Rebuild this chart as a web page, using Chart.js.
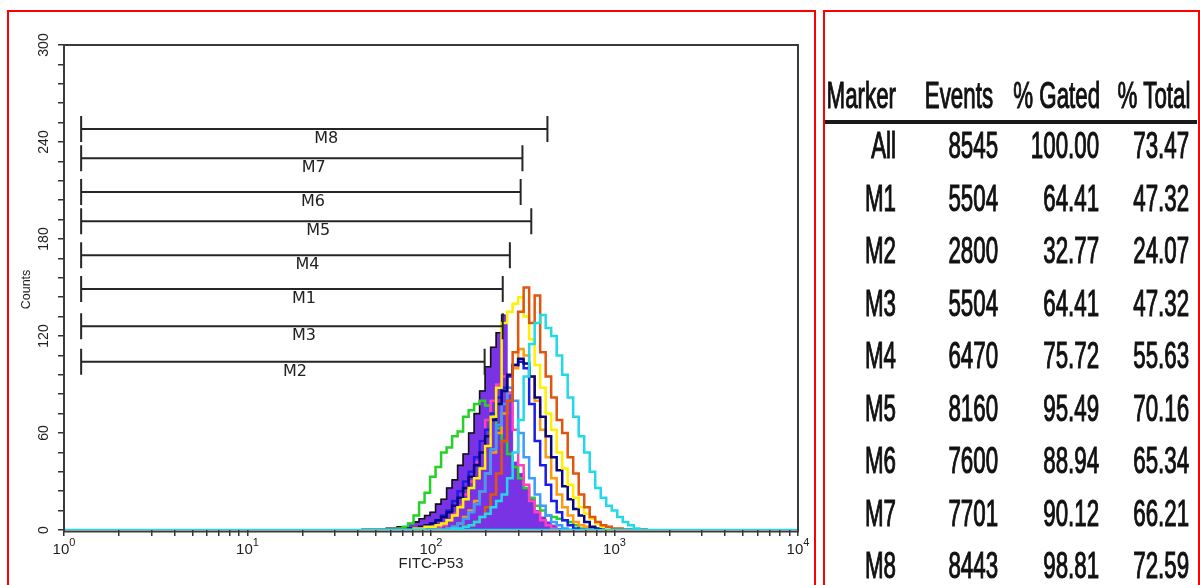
<!DOCTYPE html>
<html><head><meta charset="utf-8">
<script src="https://cdn.jsdelivr.net/npm/chart.js@4.4.1/dist/chart.umd.min.js"></script>
<style>
html,body{margin:0;padding:0;background:#fff;overflow:hidden;width:1200px;height:585px;}
#wrap{position:relative;width:1200px;height:585px;overflow:hidden;background:#fff;}
canvas{position:absolute;left:0;top:0;}
.panel{position:absolute;border:2px solid #ff0000;box-sizing:border-box;}
.cell{position:absolute;font-family:'Liberation Sans',Arial,sans-serif;font-size:36px;line-height:36px;color:#111;white-space:nowrap;transform:scaleX(0.62);transform-origin:100% 50%;-webkit-text-stroke:1.1px #111;}
.rule{position:absolute;background:#1a1a1a;}
</style></head><body>
<div id="wrap">
<canvas id="c" width="1200" height="585"></canvas>
<div class="panel" style="left:7px;top:10px;width:809px;height:620px;"></div>
<div class="panel" style="left:823px;top:10px;width:377px;height:620px;"></div>
<div id="table"></div>
</div>
<script>
// ---------- data ----------
// histogram bin centres (FITC-P53 channel)
const binChannels = [41.7,44.7,47.9,51.3,55.0,58.9,63.1,67.6,72.4,77.6,83.2,89.1,95.5,102.3,109.6,117.5,125.9,134.9,144.5,154.9,166.0,177.8,190.5,204.2,218.8,234.4,251.2,269.2,288.4,309.0,331.1,354.8,380.2,407.4,436.5,467.7,501.2,537.0,575.4,616.6,660.7,707.9,758.6,812.8,871.0,933.3,1000,1071.5,1148.2,1230.3,1318.3,1412.5,1513.6];

const countsPurple = [0,0,0,0,0,1,1,2,2,4,5,7,9,11,16,19,26,31,40,47,60,72,86,101,113,122,133,84,42,35,26,19,12,8,5,3,1,0,0,0,0,0,0,0,0,0,0,0,0,0,0,0,0];
const countsGreen = [0,0,0,0,0,0,0,1,2,4,9,17,23,33,39,48,51,58,61,70,74,78,80,77,72,63,55,47,39,32,26,20,15,12,9,8,7,6,5,3,1,0,0,0,0,0,0,0,0,0,0,0,0];
const countsPink = [0,0,0,0,0,0,0,0,0,0,0,0,0,0,1,3,6,10,15,22,30,42,55,68,80,90,95,85,62,40,28,18,11,6,3,1,0,0,0,0,0,0,0,0,0,0,0,0,0,0,0,0,0];
const countsLightOrange = [0,0,0,0,0,0,0,0,0,0,0,0,0,0,0,0,1,2,4,8,12,18,24,35,48,60,72,88,100,112,108,95,80,62,45,32,22,14,9,5,3,2,1,0,0,0,0,0,0,0,0,0,0];
const countsLightBlue = [0,0,0,0,0,0,0,0,0,0,0,0,0,0,0,0,1,2,4,7,11,16,24,35,50,65,78,88,80,60,45,32,22,15,9,5,3,1,0,0,0,0,0,0,0,0,0,0,0,0,0,0,0];
const countsBlue = [0,0,0,0,0,0,0,0,0,0,0,1,2,4,6,9,12,18,24,30,36,45,55,62,72,82,88,95,102,104,100,78,55,40,28,18,11,6,3,1,0,0,0,0,0,0,0,0,0,0,0,0,0];
const countsNavy = [0,0,0,0,0,0,0,0,0,1,1,2,3,4,6,8,11,15,20,26,33,40,48,58,68,78,86,96,102,106,103,95,82,70,58,45,37,27,19,13,9,5,2,1,0,0,0,0,0,0,0,0,0];
const countsYellow = [0,0,0,0,0,0,0,0,0,0,1,1,2,2,3,4,6,9,14,19,26,32,38,52,70,88,128,135,140,144,132,118,102,88,72,62,48,38,28,20,14,10,7,4,2,1,0,0,0,0,0,0,0];
const countsDarkOrange = [0,0,0,0,0,0,0,0,0,0,0,0,0,0,0,0,0,0,1,2,3,5,8,14,22,35,55,80,110,135,150,128,145,110,95,82,68,60,45,35,22,14,8,5,3,2,1,1,0,0,0,0,0];
const countsCyan = [0,0,0,0,0,0,0,0,0,0,0,0,0,0,0,0,0,1,1,2,3,5,8,10,14,18,22,32,48,68,95,115,128,133,125,120,108,96,82,70,58,48,36,26,20,15,12,8,5,3,1,0,0];

// baseline trace (full x range, zero counts)
const baselineX = [1, 10000];
const baselineY = [0, 0];

// marker gates
const markerNames = ['M8','M7','M6','M5','M4','M1','M3','M2'];
const markerLevels = [248, 230, 209, 191, 170, 149, 126, 104];
const markerStart = [1.24, 1.24, 1.24, 1.24, 1.24, 1.24, 1.24, 1.24];
const markerEnd = [431, 315, 308, 352, 269, 246, 246, 196];

// axes
const yLabelValues = [0, 60, 120, 180, 240, 300];
const xMajorValues = [1, 10, 100, 1000, 10000];
const xMajorExponents = ['0', '1', '2', '3', '4'];
const xAxisTitle = 'FITC-P53';
const yAxisTitle = 'Counts';

// statistics table
const tableHeader = ['Marker', 'Events', '% Gated', '% Total'];
const tableMarkers = ['All','M1','M2','M3','M4','M5','M6','M7','M8'];
const tableEvents = ['8545','5504','2800','5504','6470','8160','7600','7701','8443'];
const tableGated = ['100.00','64.41','32.77','64.41','75.72','95.49','88.94','90.12','98.81'];
const tableTotal = ['73.47','47.32','24.07','47.32','55.63','70.16','65.34','66.21','72.59'];

// ---------- table ----------
(function buildTable(){
  const t = document.getElementById('table');
  const colRight = [896, 993, 1100, 1190];
  const colRightVals = [896, 998, 1099, 1189];
  const headerCenter = 96;
  const rowCenter0 = 146, rowStep = 52.5;
  function cell(text, right, cy){
    const d = document.createElement('div');
    d.className = 'cell';
    d.textContent = text;
    d.style.right = (1200 - right) + 'px';
    d.style.top = (cy - 17.6) + 'px';
    t.appendChild(d);
  }
  tableHeader.forEach((h,i)=>cell(h, colRight[i], headerCenter));
  const rule = document.createElement('div');
  rule.className = 'rule';
  rule.style.left = '825px'; rule.style.top = '120px'; rule.style.width = '372px'; rule.style.height = '4px';
  t.appendChild(rule);
  const cols = [tableMarkers, tableEvents, tableGated, tableTotal];
  tableMarkers.forEach((m,r)=>{
    const cy = rowCenter0 + r*rowStep;
    cols.forEach((col,c)=>cell(col[r], colRightVals[c], cy));
  });
})();

// ---------- chart ----------
const xTickValues = [];
for (let d = 0; d < xMajorValues.length - 1; d++) {
  for (let m = 1; m <= 9; m++) xTickValues.push(xMajorValues[d] * m);
}
xTickValues.push(xMajorValues[xMajorValues.length - 1]);

const PURPLE = '#7a33e4';
const peakIdx = countsPurple.indexOf(Math.max(...countsPurple));

function points(counts) {
  return binChannels.map((c, i) => ({ x: c, y: counts[i] }));
}

function series(label, counts, color, order, extra) {
  return Object.assign({
    label,
    data: points(counts),
    borderColor: color,
    backgroundColor: color,
    borderWidth: 2.5,
    pointRadius: 0,
    stepped: 'middle',
    fill: false,
    order
  }, extra || {});
}

const datasets = [
  series('Sample 1', countsPurple, PURPLE, 11, {
    fill: 'origin', backgroundColor: PURPLE, borderColor: PURPLE, borderWidth: 1
  }),
  {
    label: 'Sample 1 outline',
    data: points(countsPurple).slice(0, peakIdx + 1),
    borderColor: '#111111', borderWidth: 1.6, pointRadius: 0, stepped: 'middle', fill: false, order: 10
  },
  series('Sample 2', countsGreen, '#27d127', 9),
  series('Sample 3', countsPink, '#ff3fbf', 8),
  series('Sample 4', countsLightOrange, '#ff9a10', 7),
  series('Sample 5', countsLightBlue, '#3a9cff', 6),
  series('Sample 6', countsBlue, '#1c1ce8', 5),
  series('Sample 7', countsNavy, '#07077e', 4),
  series('Sample 8', countsYellow, '#fff000', 3),
  series('Sample 9', countsDarkOrange, '#e0560c', 2),
  series('Sample 10', countsCyan, '#22d9e8', 1),
  {
    label: 'baseline',
    data: baselineX.map((v, i) => ({ x: v, y: baselineY[i] })),
    borderColor: '#22d9e8', borderWidth: 2.5, pointRadius: 0, fill: false, order: 0
  }
];

const overlay = {
  id: 'overlay',
  afterDatasetsDraw(chart) {
    const { ctx, chartArea: a, scales: { x, y } } = chart;
    ctx.save();
    // frame
    ctx.strokeStyle = '#3a3a3a';
    ctx.lineWidth = 2;
    ctx.beginPath();
    ctx.moveTo(a.left, a.bottom + 1.5);
    ctx.lineTo(a.left, a.top);
    ctx.lineTo(a.right, a.top);
    ctx.lineTo(a.right, a.bottom + 1.5);
    ctx.lineTo(a.left, a.bottom + 1.5);
    ctx.stroke();

    // markers
    ctx.strokeStyle = '#262626';
    ctx.lineWidth = 2;
    ctx.fillStyle = '#222';
    ctx.font = '16px "DejaVu Sans"';
    ctx.textAlign = 'left';
    ctx.textBaseline = 'middle';
    markerNames.forEach((n, i) => {
      const x0 = x.getPixelForValue(markerStart[i]);
      const x1 = x.getPixelForValue(markerEnd[i]);
      const yy = y.getPixelForValue(markerLevels[i]);
      ctx.beginPath();
      ctx.moveTo(x0, yy); ctx.lineTo(x1, yy);
      ctx.moveTo(x0, yy - 13); ctx.lineTo(x0, yy + 13);
      ctx.moveTo(x1, yy - 13); ctx.lineTo(x1, yy + 13);
      ctx.stroke();
      ctx.fillText(n, (x0 + x1) / 2, yy + 10);
    });

    // y tick labels (rotated)
    ctx.fillStyle = '#222';
    ctx.font = '14px "Liberation Sans"';
    ctx.textAlign = 'center';
    ctx.textBaseline = 'middle';
    yLabelValues.forEach(v => {
      const py = y.getPixelForValue(v);
      ctx.save();
      ctx.translate(a.left - 20, py);
      ctx.rotate(-Math.PI / 2);
      ctx.fillText(String(v), 0, 0);
      ctx.restore();
    });
    // y title
    ctx.font = '12.5px "Liberation Sans"';
    ctx.save();
    ctx.translate(a.left - 37, (a.top + a.bottom) / 2 + 2);
    ctx.rotate(-Math.PI / 2);
    ctx.fillText(yAxisTitle, 0, 0);
    ctx.restore();

    // x tick labels with exponent
    ctx.textAlign = 'left';
    ctx.textBaseline = 'alphabetic';
    xMajorValues.forEach((v, i) => {
      const px = x.getPixelForValue(v);
      ctx.font = '15px "Liberation Sans"';
      const w1 = ctx.measureText('10').width;
      ctx.font = '11px "Liberation Sans"';
      const w2 = ctx.measureText(xMajorExponents[i]).width;
      const start = px - (w1 + w2) / 2;
      ctx.font = '15px "Liberation Sans"';
      ctx.fillText('10', start, a.bottom + 24);
      ctx.font = '11px "Liberation Sans"';
      ctx.fillText(xMajorExponents[i], start + w1, a.bottom + 16);
    });
    // x title
    ctx.font = '15px "Liberation Sans"';
    ctx.textAlign = 'center';
    ctx.fillText(xAxisTitle, (a.left + a.right) / 2, a.bottom + 38);
    ctx.restore();
  }
};

new Chart(document.getElementById('c'), {
  type: 'line',
  data: { datasets },
  options: {
    responsive: false,
    animation: false,
    events: [],
    layout: { padding: { top: 45, left: 0, right: 402, bottom: 0 } },
    plugins: { legend: { display: false }, tooltip: { enabled: false } },
    scales: {
      x: {
        type: 'logarithmic',
        position: 'bottom',
        min: 1, max: 10000,
        afterBuildTicks: s => { s.ticks = xTickValues.map(v => ({ value: v })); },
        afterFit: s => { s.height = 55; },
        ticks: { display: false },
        border: { display: false },
        grid: { drawOnChartArea: false, drawTicks: true, tickLength: 6, color: '#333', lineWidth: 1.5 }
      },
      y: {
        type: 'linear',
        min: 0, max: 300,
        afterFit: s => { s.width = 64; },
        ticks: { display: false, stepSize: 12 },
        border: { display: false },
        grid: { drawOnChartArea: false, drawTicks: true, tickLength: 6, color: '#333', lineWidth: 1.5 }
      }
    }
  },
  plugins: [overlay]
});
</script>
</body></html>
